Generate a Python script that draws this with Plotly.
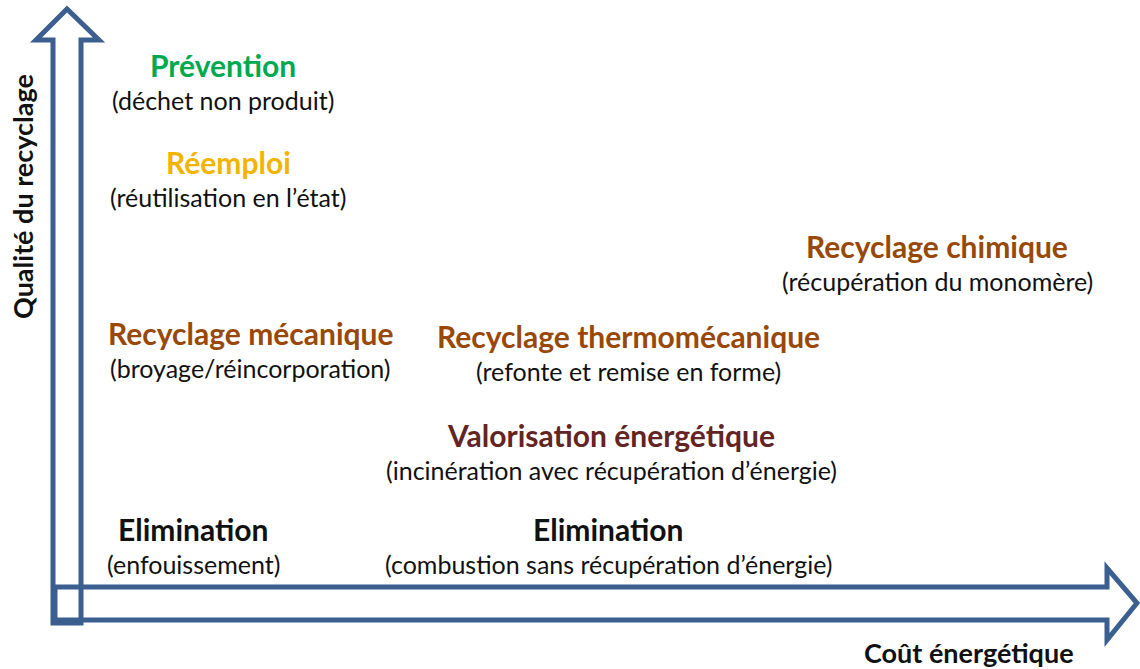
import plotly.graph_objects as go

# Waste-management hierarchy: position on (energy cost, recycling quality)
titles = ["Prévention", "Réemploi", "Recyclage chimique", "Recyclage mécanique",
          "Recyclage thermomécanique", "Valorisation énergétique", "Elimination", "Elimination"]
notes = ["(déchet non produit)", "(réutilisation en l’état)", "(récupération du monomère)",
         "(broyage/réincorporation)", "(refonte et remise en forme)",
         "(incinération avec récupération d’énergie)", "(enfouissement)",
         "(combustion sans récupération d’énergie)"]
cost = [223, 228, 937, 250, 628, 611, 193, 608]
quality = [65, 162, 246, 333, 336, 435, 529, 529]
title_colors = ["#00A94F", "#F2B400", "#984807", "#984807", "#984807", "#632523", "#111111", "#111111"]

W, H = 1140, 669
FONT = "Lato"
ARROW = "#3B5F8F"

fig = go.Figure()
fig.add_trace(go.Scatter(x=[0, W], y=[0, H], mode="markers", marker=dict(opacity=0),
                         hoverinfo="skip", showlegend=False))

# vertical arrow (quality)
up = "M 53,623 L 53,40 L 36,40 L 67,9 L 99,40 L 81,40 L 81,623 Z"
# horizontal arrow (energy cost)
right = "M 55,587 L 1107,587 L 1107,568 L 1137,603 L 1107,640 L 1107,620 L 55,620 Z"
for p in (up, right):
    fig.add_shape(type="path", path=p, xref="x", yref="y",
                  line=dict(color=ARROW, width=5), fillcolor="rgba(0,0,0,0)")

for t, n, cx, qy, c in zip(titles, notes, cost, quality, title_colors):
    fig.add_annotation(x=cx, y=qy, text="<b>" + t + "</b>", showarrow=False,
                       font=dict(family=FONT, size=30, color=c), xanchor="center", yanchor="middle")
    fig.add_annotation(x=cx, y=qy + 35, text=n, showarrow=False,
                       font=dict(family=FONT, size=25, color="#111111"), xanchor="center", yanchor="middle")

fig.add_annotation(x=22, y=197, text="<b>Qualité du recyclage</b>", textangle=-90, showarrow=False,
                   font=dict(family=FONT, size=27, color="#111111"), xanchor="center", yanchor="middle")
fig.add_annotation(x=969, y=652, text="<b>Coût énergétique</b>", showarrow=False,
                   font=dict(family=FONT, size=27, color="#111111"), xanchor="center", yanchor="middle")

fig.update_layout(
    width=W, height=H,
    margin=dict(l=0, r=0, t=0, b=0),
    paper_bgcolor="white", plot_bgcolor="white",
    xaxis=dict(range=[0, W], visible=False, fixedrange=True),
    yaxis=dict(range=[H, 0], visible=False, fixedrange=True),
    showlegend=False,
)

# drop the browser's default body margin so the figure sits at the window's corner
fig.write_html("out.html", config={"displayModeBar": False},
               post_script="document.body.style.margin='0';")
